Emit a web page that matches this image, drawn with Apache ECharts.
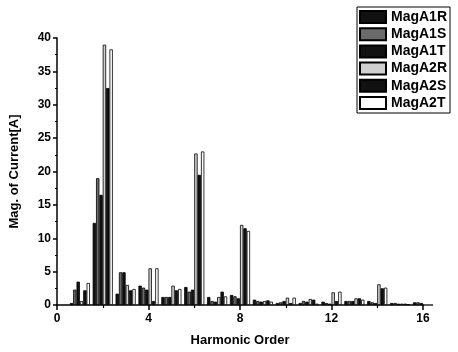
<!DOCTYPE html>
<html>
<head>
<meta charset="utf-8">
<script src="https://cdn.jsdelivr.net/npm/echarts@6/dist/echarts.min.js"></script>
<style>
  html, body { margin: 0; padding: 0; background: #fff; }
  #chart { width: 458px; height: 352px; }
</style>
</head>
<body>
<div id="chart"></div>
<script>

var orders = [1, 2, 3, 4, 5, 6, 7, 8, 9, 10, 11, 12, 13, 14, 15, 16];

var magA1R = [0.3, 12.3, 1.7, 2.9, 1.2, 2.7, 1.2, 1.5, 0.8, 0.3, 0.3, 0.5, 0.6, 0.6, 0.3, 0.4];
var magA1S = [2.3, 19.0, 4.9, 2.6, 1.2, 2.0, 0.6, 1.3, 0.6, 0.4, 0.6, 0.3, 0.6, 0.4, 0.3, 0.4];
var magA1T = [3.5, 16.5, 4.9, 2.3, 1.2, 2.3, 0.5, 1.0, 0.5, 0.6, 0.5, 0.2, 0.6, 0.3, 0.2, 0.3];
var magA2R = [0.6, 39.0, 3.0, 5.5, 2.9, 22.7, 1.2, 12.0, 0.6, 1.1, 0.9, 1.9, 1.0, 3.1, 0.2, 0.0];
var magA2S = [2.2, 32.5, 2.2, 0.6, 2.2, 19.5, 2.0, 11.5, 0.7, 0.3, 0.8, 0.6, 1.0, 2.5, 0.2, 0.0];
var magA2T = [3.3, 38.3, 2.4, 5.5, 2.4, 23.0, 1.3, 11.1, 0.5, 1.1, 0.2, 2.0, 0.8, 2.6, 0.1, 0.0];

var seriesNames = ['MagA1R', 'MagA1S', 'MagA1T', 'MagA2R', 'MagA2S', 'MagA2T'];
var seriesValues = [magA1R, magA1S, magA1T, magA2R, magA2S, magA2T];
var seriesColors = ['#111', '#6a6a6a', '#111', '#d0d0d0', '#111', '#fff'];

var font = 'Liberation Sans, Arial, sans-serif';

var series = seriesNames.map(function (name, i) {
    return {
        name: name,
        type: 'bar',
        barGap: '0%',
        barCategoryGap: '12%',
        data: orders.map(function (o, j) {
            return [o, seriesValues[i][j]];
        }),
        itemStyle: {
            color: seriesColors[i],
            borderColor: '#000',
            borderWidth: 0.8
        }
    };
});

var option = {
    animation: false,
    backgroundColor: '#fff',
    grid: {
        left: 57,
        right: 35,
        top: 38,
        bottom: 42
    },
    legend: {
        orient: 'vertical',
        left: 357,
        top: 7,
        padding: [3, 3, 3, 2],
        itemWidth: 26,
        itemHeight: 12,
        itemGap: 3.2,
        borderColor: '#000',
        borderWidth: 1,
        borderRadius: 0,
        icon: 'rect',
        data: seriesNames,
        textStyle: {
            fontFamily: font,
            fontWeight: 'bold',
            fontSize: 14,
            color: '#000'
        }
    },
    xAxis: {
        type: 'value',
        min: 0,
        max: 16,
        interval: 4,
        name: 'Harmonic Order',
        nameLocation: 'middle',
        nameGap: 29,
        nameTextStyle: {
            fontFamily: font,
            fontWeight: 'bold',
            fontSize: 13,
            color: '#000'
        },
        axisLine: { lineStyle: { color: '#000', width: 1.5 } },
        axisTick: { length: 5, lineStyle: { color: '#000', width: 1.5 } },
        minorTick: { show: true, splitNumber: 2, length: 3, lineStyle: { color: '#000', width: 1.2 } },
        splitLine: { show: false },
        axisLabel: {
            fontFamily: font,
            fontWeight: 'bold',
            fontSize: 12,
            color: '#000',
            margin: 8
        }
    },
    yAxis: {
        type: 'value',
        min: 0,
        max: 40,
        interval: 5,
        name: 'Mag. of Current[A]',
        nameLocation: 'middle',
        nameGap: 36,
        nameTextStyle: {
            fontFamily: font,
            fontWeight: 'bold',
            fontSize: 13,
            color: '#000'
        },
        axisLine: { show: true, lineStyle: { color: '#000', width: 1.5 } },
        axisTick: { show: true, length: 4, lineStyle: { color: '#000', width: 1.5 } },
        minorTick: { show: true, splitNumber: 2, length: 2, lineStyle: { color: '#000', width: 1.2 } },
        splitLine: { show: false },
        axisLabel: {
            fontFamily: font,
            fontWeight: 'bold',
            fontSize: 12,
            color: '#000',
            margin: 6
        }
    },
    series: series
};

var myChart = echarts.init(document.getElementById('chart'));
myChart.setOption(option);
</script>
</body>
</html>
